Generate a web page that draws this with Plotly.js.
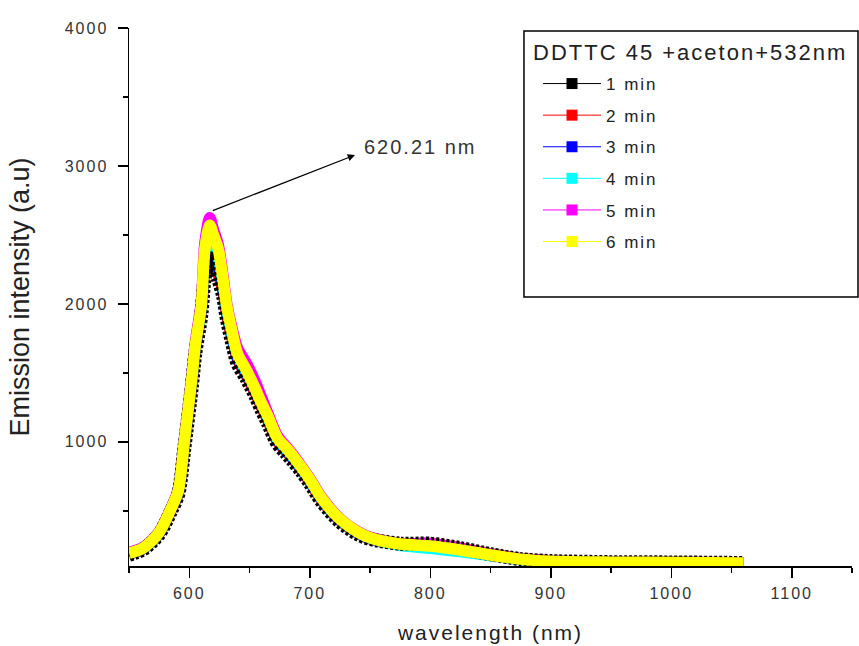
<!DOCTYPE html>
<html>
<head>
<meta charset="utf-8">
<script src="https://cdn.plot.ly/plotly-3.0.1.min.js"></script>
<style>
html,body{margin:0;padding:0;background:#fff;}
svg text{letter-spacing:2px;}
svg text.ytitle{letter-spacing:0px;}
</style>
</head>
<body>
<div id="chart" style="width:859px;height:646px;"></div>
<script>
// wavelength (nm)
const wavelength = [550,562,575,585,591,596,602,605,610,613,617,620,624,628,631,635,640,648,655,660,665,673,680,685,693,700,710,725,740,750,775,800,825,850,875,900,950,1000,1060];
// emission intensity (a.u) per time
const min1 = [182,222,330,500,625,960,1390,1640,1920,2200,2330,2260,2180,2060,1900,1740,1570,1450,1330,1230,1140,990,920,870,785,700,565,420,330,295,262,262,230,186,150,136,128,126,122];
const min2 = [186,226,335,505,630,975,1410,1660,1950,2250,2380,2300,2220,2090,1930,1770,1600,1470,1350,1250,1160,1005,935,885,795,710,575,428,336,298,258,264,230,188,152,137,129,127,123];
const min3 = [188,228,338,510,637,990,1425,1675,1965,2310,2450,2380,2290,2120,1950,1785,1610,1485,1360,1260,1170,1015,945,893,802,717,580,432,338,300,254,236,210,178,148,135,127,125,122];
const min4 = [190,230,341,514,642,1000,1435,1685,1975,2350,2520,2440,2340,2150,1970,1800,1625,1495,1370,1270,1180,1022,952,900,810,723,585,436,341,302,250,228,204,176,147,134,127,125,122];
const min5 = [197,237,347,522,655,1015,1460,1715,2010,2440,2625,2540,2430,2200,2005,1840,1680,1560,1430,1320,1210,1045,970,918,822,735,595,443,348,308,262,262,228,185,152,136,128,126,122];
const min6 = [192,232,343,518,648,1008,1448,1698,1988,2400,2570,2500,2400,2180,1990,1820,1640,1510,1380,1280,1190,1030,960,910,817,730,590,440,345,305,259,245,216,180,150,135,128,126,122];
const seriesNames = ["1 min","2 min","3 min","4 min","5 min","6 min"];
const seriesValues = [min1,min2,min3,min4,min5,min6];
const seriesColors = ["#000000","#ff0000","#0000ff","#00ffff","#ff00ff","#ffff00"];
const xTickVals = [600,700,800,900,1000,1100];
const yTickVals = [1000,2000,3000,4000];
const peakLabel = "620.21 nm";
const legendTitle = "DDTTC 45 +aceton+532nm";

const font = "Arial, 'Liberation Sans', sans-serif";
const traces = [];
// drawing order: 2,3,4,5 min, then 1 min (dark dashed rim), then 6 min on top
const drawOrder = [1,2,3,4,0,5];
drawOrder.forEach(i=>{
  const vals = seriesValues[i];
  let line = {color:seriesColors[i], width:11.5, shape:'spline', smoothing:0.8};
  if(i===0){ line = {color:'#000', width:14, shape:'spline', smoothing:0.8, dash:'3px,2px'}; }
  traces.push({
    x: wavelength, y: vals, type:'scatter', mode:'lines', line:line,
    showlegend:false, legendgroup:'g'+i, hoverinfo:'skip'
  });
});
seriesValues.forEach((vals,i)=>{
  traces.push({
    x:[null], y:[null], type:'scatter', mode:'lines+markers', name:seriesNames[i],
    line:{color: seriesColors[i], width:1},
    marker:{symbol:'square', size:11, color:seriesColors[i]},
    legendgroup:'g'+i, showlegend:true
  });
});

const layout = {
  width:859, height:646,
  margin:{l:129, r:7, t:28, b:80},
  paper_bgcolor:'#fff', plot_bgcolor:'#fff',
  font:{family:font, color:'#333'},
  showlegend:true,
  xaxis:{
    range:[550,1150], showgrid:false, zeroline:false,
    showline:true, linecolor:'#000', linewidth:1.5, mirror:false,
    tickmode:'array', tickvals:xTickVals,
    ticks:'outside', ticklen:10, tickwidth:1.5, tickcolor:'#000',
    minor:{tickmode:'linear', tick0:550, dtick:50, ticks:'outside', ticklen:5, tickwidth:1.5, tickcolor:'#000'},
    tickfont:{size:16, color:'#333'}, ticklabelstandoff:2,
    title:{text:'wavelength (nm)', font:{size:21, color:'#222'}, standoff:24}
  },
  yaxis:{
    range:[100,4000], showgrid:false, zeroline:false,
    showline:true, linecolor:'#000', linewidth:1.5,
    tickmode:'array', tickvals:yTickVals,
    ticks:'outside', ticklen:10, tickwidth:1.5, tickcolor:'#000',
    minor:{tickmode:'linear', tick0:500, dtick:500, ticks:'outside', ticklen:5, tickwidth:1.5, tickcolor:'#000'},
    tickfont:{size:16, color:'#333'}, ticklabelstandoff:6,
    title:{text:'Emission intensity (a.u)', font:{size:27, color:'#222'}, standoff:27}
  },
  legend:{
    x:(538-129)/723, y:(566-66)/538, xanchor:'left', yanchor:'top',
    bgcolor:'rgba(0,0,0,0)', borderwidth:0,
    font:{size:17, color:'#222'},
    traceorder:'grouped', tracegroupgap:6.5, itemwidth:58
  },
  shapes:[{
    type:'rect', xref:'paper', yref:'paper',
    x0:0.5463, x1:1.0083, y0:0.5, y1:0.9944,
    line:{color:'#000', width:1.5}, fillcolor:'rgba(0,0,0,0)'
  }],
  annotations:[
    {xref:'paper', yref:'paper', x:(531-129)/723, y:(566-52)/538, xanchor:'left', yanchor:'middle',
     text:legendTitle, showarrow:false, font:{size:22, color:'#222'}},
    {x:737.5, y:3079, ax:618.3, ay:2672, axref:'x', ayref:'y', xref:'x', yref:'y',
     text:'', showarrow:true, arrowhead:2, arrowsize:1.2, arrowwidth:1.2, arrowcolor:'#000'},
    {x:743, y:3135, xref:'x', yref:'y', xanchor:'left', yanchor:'middle',
     text:peakLabel, showarrow:false, font:{size:20, color:'#333'}}
  ]
};
Plotly.newPlot('chart', traces, layout, {displayModeBar:false, staticPlot:true});
</script>
</body>
</html>
